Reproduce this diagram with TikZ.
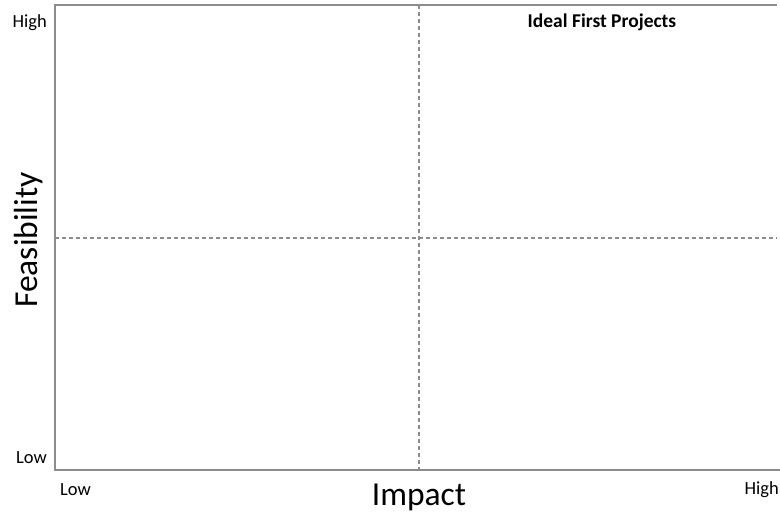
\documentclass[tikz,border=0pt]{standalone}
\usepackage{fontspec}
\setmainfont{Carlito}
\begin{document}
\begin{tikzpicture}[x=1pt,y=-1pt,
  axisline/.style={draw=black!45,line width=1.6pt},
  divider/.style={draw=black!45,line width=1.2pt,dash pattern=on 4pt off 3pt},
  ticklabel/.style={font=\fontsize{18.5}{22}\selectfont,inner sep=0pt},
  axistitle/.style={font=\fontsize{33.5}{40}\selectfont,inner sep=0pt},
  quadtitle/.style={font=\fontsize{19.5}{23}\selectfont\bfseries,inner sep=0pt}]
\useasboundingbox (0,0) rectangle (780,516);
% frame
\coordinate (tl) at (55,5);
\coordinate (tr) at (777,5);
\coordinate (bl) at (55,470);
\coordinate (br) at (780,470);
\draw[axisline] (tr) -- (tl) -- (bl) -- (br);
% dividers
\coordinate (vt) at (419,5);
\coordinate (vb) at (419,470);
\coordinate (hl) at (55,238);
\coordinate (hr) at (777,238);
\draw[divider] (vt) -- (vb);
\draw[divider] (hl) -- (hr);
% labels
\node[ticklabel,anchor=base east] (yhigh) at (47,28) {High};
\node[ticklabel,anchor=base east] (ylow) at (47,463) {Low};
\node[ticklabel,anchor=base west] (xlow) at (60,495) {Low};
\node[ticklabel,anchor=base east] (xhigh) at (779,494) {High};
\node[axistitle,anchor=base] (ximp) at (419,505) {Impact};
\node[axistitle,rotate=90,anchor=base] (yfeas) at (37,240) {Feasibility};
\node[quadtitle,anchor=base] (ideal) at (602,28) {Ideal First Projects};
\end{tikzpicture}
\end{document}
